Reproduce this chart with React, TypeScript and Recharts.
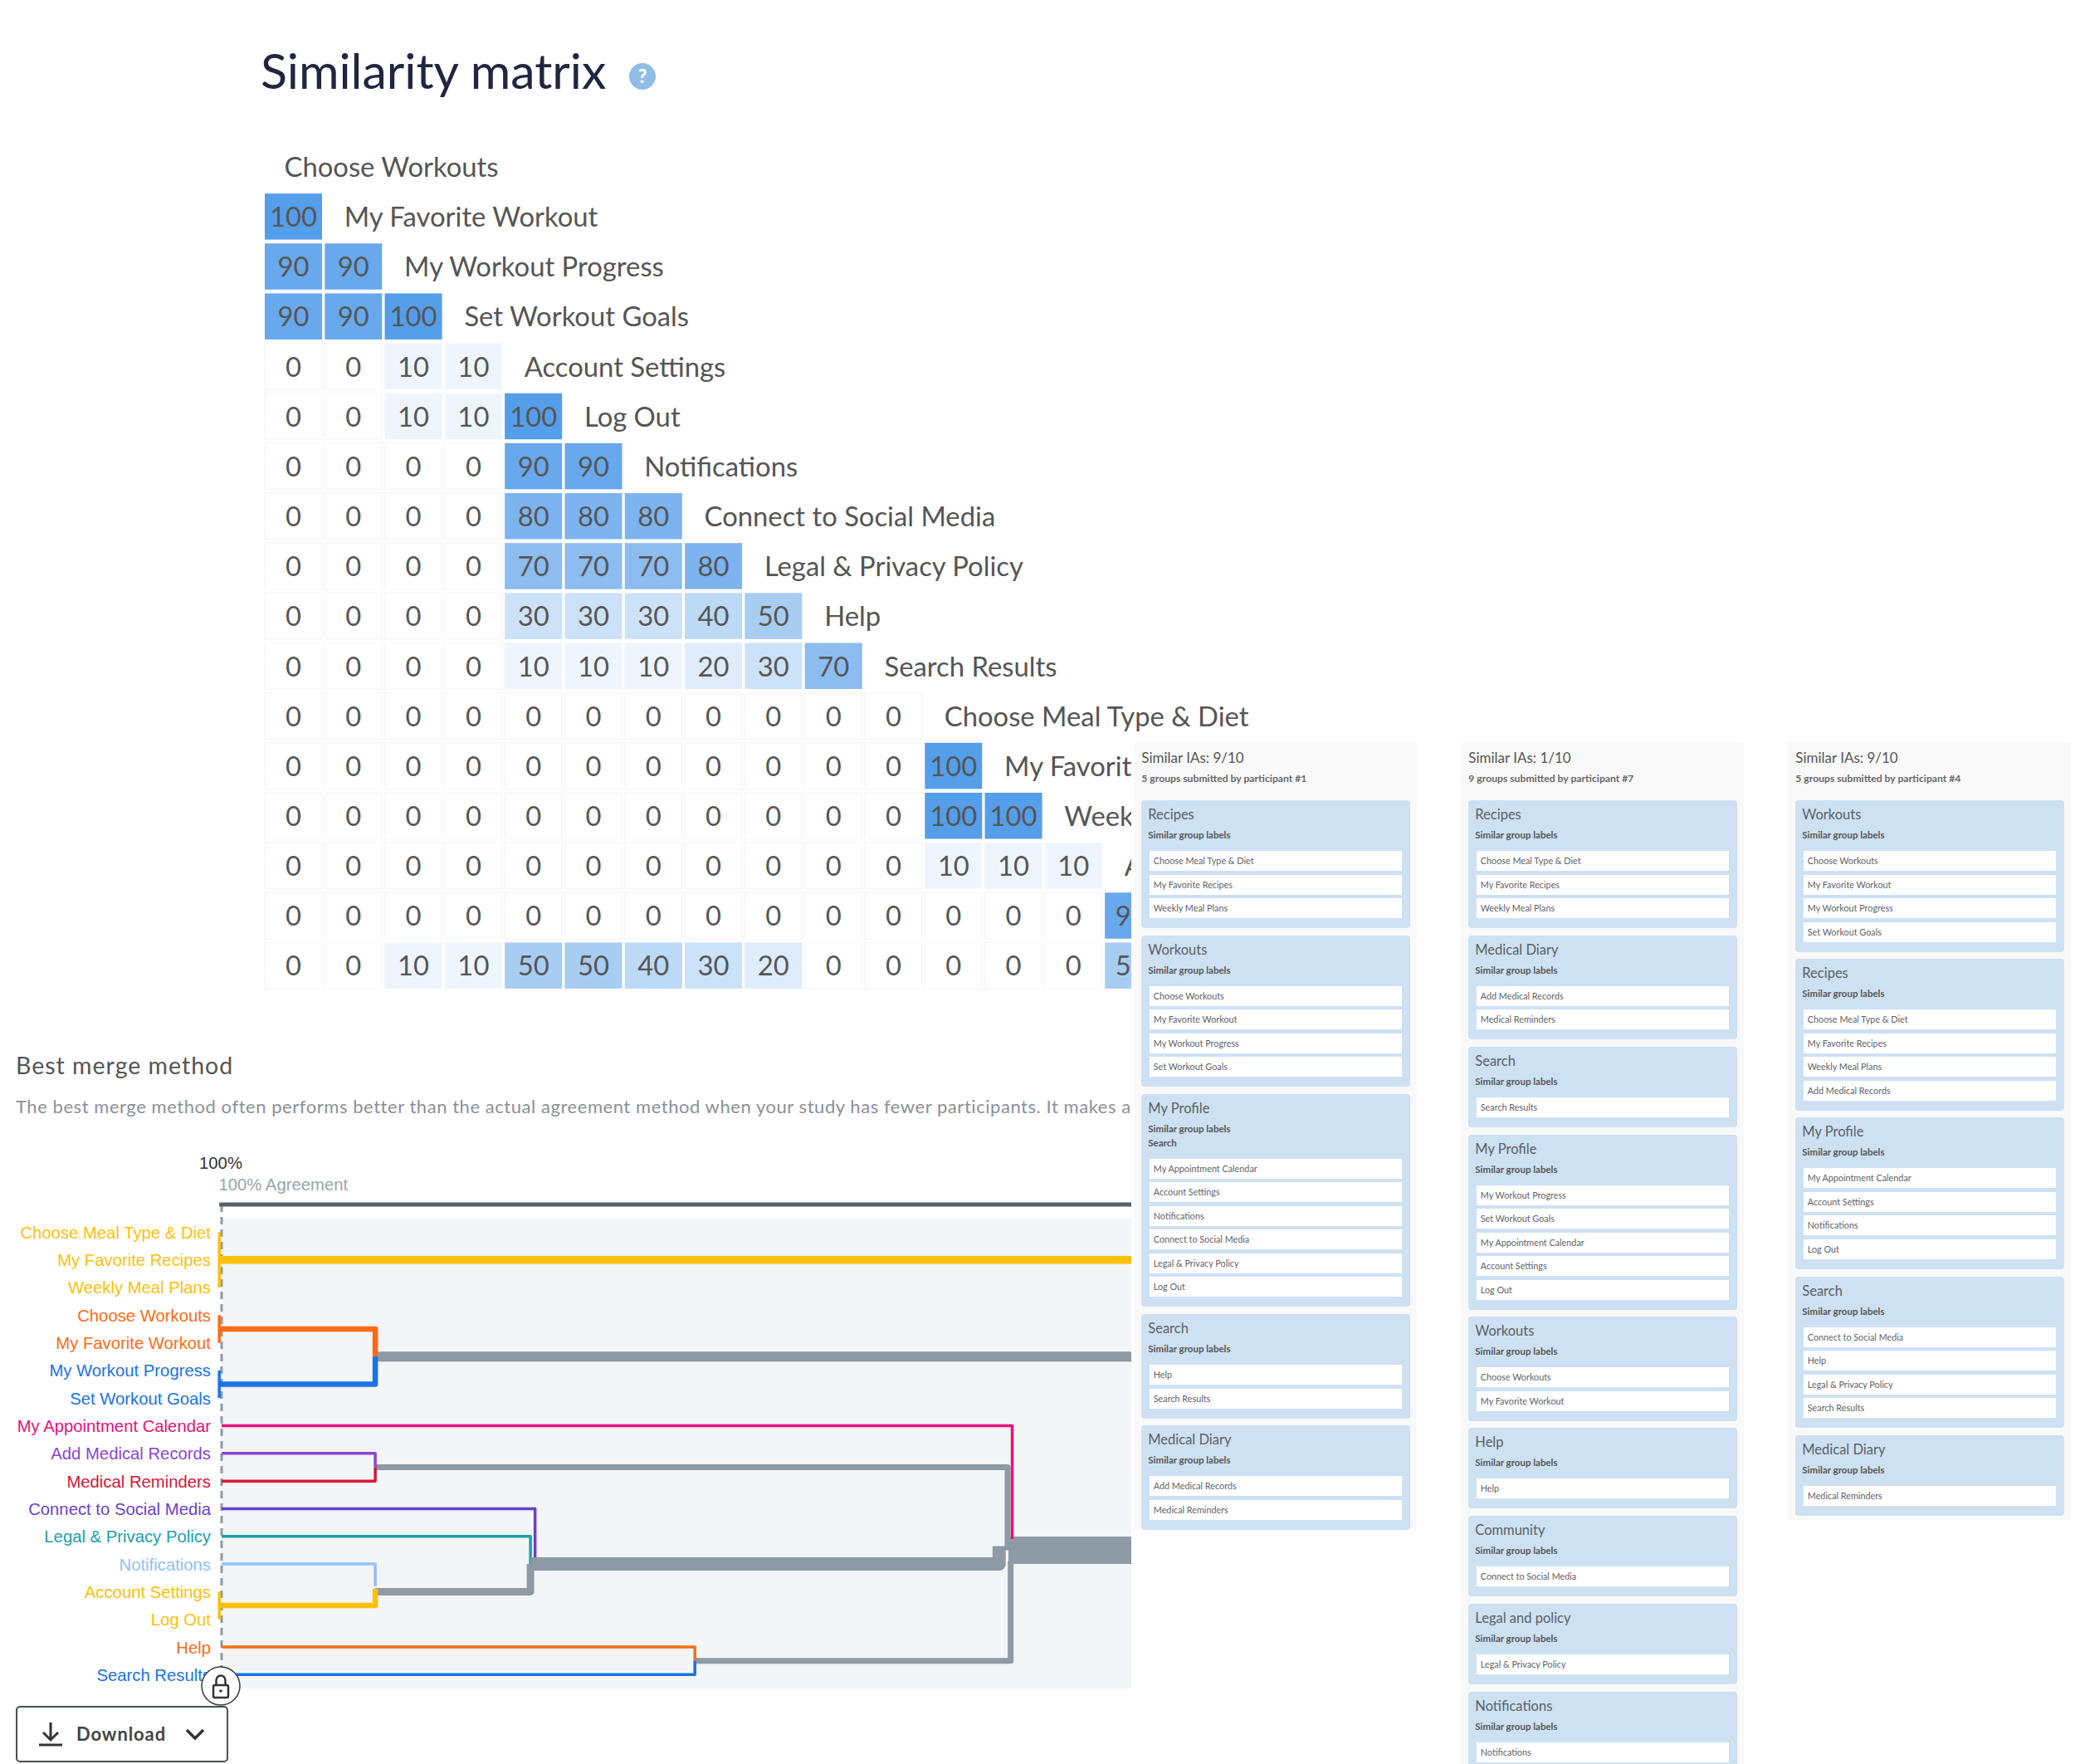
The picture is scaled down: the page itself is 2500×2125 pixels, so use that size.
import React from "react";
import {
  LineChart,
  Line,
  ScatterChart,
  Scatter,
  XAxis,
  YAxis,
  ReferenceArea,
  ReferenceLine,
} from "recharts";

// similarity matrix, one list per row, lower triangle
// the last labels are cut by the pasted panels in the picture, so only the visible part is kept
const matrixLabels = [
  "Choose Workouts",
  "My Favorite Workout",
  "My Workout Progress",
  "Set Workout Goals",
  "Account Settings",
  "Log Out",
  "Notifications",
  "Connect to Social Media",
  "Legal & Privacy Policy",
  "Help",
  "Search Results",
  "Choose Meal Type & Diet",
  "My Favorit",
  "Week",
  "A",
];
const matrixRows = [
  [],
  [100],
  [90, 90],
  [90, 90, 100],
  [0, 0, 10, 10],
  [0, 0, 10, 10, 100],
  [0, 0, 0, 0, 90, 90],
  [0, 0, 0, 0, 80, 80, 80],
  [0, 0, 0, 0, 70, 70, 70, 80],
  [0, 0, 0, 0, 30, 30, 30, 40, 50],
  [0, 0, 0, 0, 10, 10, 10, 20, 30, 70],
  [0, 0, 0, 0, 0, 0, 0, 0, 0, 0, 0],
  [0, 0, 0, 0, 0, 0, 0, 0, 0, 0, 0, 100],
  [0, 0, 0, 0, 0, 0, 0, 0, 0, 0, 0, 100, 100],
  [0, 0, 0, 0, 0, 0, 0, 0, 0, 0, 0, 10, 10, 10],
  [0, 0, 0, 0, 0, 0, 0, 0, 0, 0, 0, 0, 0, 0, 90],
  [0, 0, 10, 10, 50, 50, 40, 30, 20, 0, 0, 0, 0, 0, 50],
];
const matrixCells = matrixRows.flatMap((vals, row) =>
  vals.map((value, col) => ({ col, row, value }))
);
const matrixHeads = matrixLabels.map((label, row) => ({ col: row, row, label }));

// best merge dendrogram, x is agreement %, y is position in the item list
const mergeLabels = [
  "Choose Meal Type & Diet",
  "My Favorite Recipes",
  "Weekly Meal Plans",
  "Choose Workouts",
  "My Favorite Workout",
  "My Workout Progress",
  "Set Workout Goals",
  "My Appointment Calendar",
  "Add Medical Records",
  "Medical Reminders",
  "Connect to Social Media",
  "Legal & Privacy Policy",
  "Notifications",
  "Account Settings",
  "Log Out",
  "Help",
  "Search Results",
];
const mergeItems = [0, 1, 2, 3, 4, 5, 6, 7, 8, 9, 10, 11, 12, 13, 14, 15, 16];

const recipesStem = [{ x: 100.15, y: 0 }, { x: 100.15, y: 2 }];
const recipesLink = [{ x: 100.15, y: 1 }, { x: 40.8, y: 1 }];
const workoutsA = [{ x: 100.15, y: 3 }, { x: 100.15, y: 4 }];
const workoutsALink = [{ x: 100.15, y: 3.5 }, { x: 90, y: 3.5 }, { x: 90, y: 4.5 }];
const workoutsB = [{ x: 100.15, y: 5 }, { x: 100.15, y: 6 }];
const workoutsBLink = [{ x: 100.15, y: 5.5 }, { x: 90, y: 5.5 }, { x: 90, y: 4.5 }];
const workoutsTrunk = [{ x: 90, y: 4.5 }, { x: 40.8, y: 4.5 }];
const appointmentLink = [{ x: 100, y: 7 }, { x: 48.55, y: 7 }, { x: 48.55, y: 11.1 }];
const addMedicalLink = [{ x: 100, y: 8 }, { x: 90, y: 8 }, { x: 90, y: 8.5 }];
const remindersLink = [{ x: 100, y: 9 }, { x: 90, y: 9 }, { x: 90, y: 8.5 }];
const medicalTrunk = [{ x: 90, y: 8.5 }, { x: 48.85, y: 8.5 }, { x: 48.85, y: 11.5 }];
const socialLink = [{ x: 100, y: 10 }, { x: 79.6, y: 10 }, { x: 79.6, y: 11.8 }];
const legalLink = [{ x: 100, y: 11 }, { x: 79.9, y: 11 }, { x: 79.9, y: 12 }];
const notificationsLink = [{ x: 100, y: 12 }, { x: 90, y: 12 }, { x: 90, y: 12.8 }];
const accountStem = [{ x: 100.15, y: 13 }, { x: 100.15, y: 14 }];
const accountLink = [{ x: 100.15, y: 13.5 }, { x: 90, y: 13.5 }, { x: 90, y: 12.9 }];
const profileTrunk = [{ x: 90, y: 13 }, { x: 79.9, y: 13 }, { x: 79.9, y: 12 }];
const profileMerge = [{ x: 79.9, y: 12 }, { x: 49.4, y: 12 }, { x: 49.4, y: 11.35 }];
const helpLink = [{ x: 100, y: 15 }, { x: 69.2, y: 15 }, { x: 69.2, y: 15.5 }];
const searchLink = [{ x: 100, y: 16 }, { x: 69.2, y: 16 }, { x: 69.2, y: 15.5 }];
const searchTrunk = [{ x: 69.2, y: 15.5 }, { x: 48.65, y: 15.5 }, { x: 48.65, y: 11.9 }];
const rootTrunk = [{ x: 48.8, y: 11.5 }, { x: 40.8, y: 11.5 }];

const GREY = "#8e9aa5";
const YELLOW = "#fdc00b";
const ORANGE = "#ff6a13";
const BLUE = "#1a73e8";

const links = [
  { id: "recipesStem", data: recipesStem, color: YELLOW, width: 3.5 },
  { id: "recipesLink", data: recipesLink, color: YELLOW, width: 9.5 },
  { id: "workoutsTrunk", data: workoutsTrunk, color: GREY, width: 12 },
  { id: "workoutsA", data: workoutsA, color: ORANGE, width: 3.5 },
  { id: "workoutsALink", data: workoutsALink, color: ORANGE, width: 6.5 },
  { id: "workoutsB", data: workoutsB, color: BLUE, width: 3.5 },
  { id: "workoutsBLink", data: workoutsBLink, color: BLUE, width: 6.5 },
  { id: "medicalTrunk", data: medicalTrunk, color: GREY, width: 7 },
  { id: "addMedicalLink", data: addMedicalLink, color: "#8b45d6", width: 3.5 },
  { id: "remindersLink", data: remindersLink, color: "#d8143a", width: 3.5 },
  { id: "legalLink", data: legalLink, color: "#17a2a8", width: 3.5 },
  { id: "socialLink", data: socialLink, color: "#6a3fd0", width: 3.5 },
  { id: "searchTrunk", data: searchTrunk, color: GREY, width: 7 },
  { id: "profileTrunk", data: profileTrunk, color: GREY, width: 9 },
  { id: "notificationsLink", data: notificationsLink, color: "#8fc1ff", width: 3.5 },
  { id: "accountStem", data: accountStem, color: YELLOW, width: 3.5 },
  { id: "accountLink", data: accountLink, color: YELLOW, width: 6.5 },
  { id: "profileMerge", data: profileMerge, color: GREY, width: 16 },
  { id: "rootTrunk", data: rootTrunk, color: GREY, width: 33 },
  { id: "appointmentLink", data: appointmentLink, color: "#ec0f7a", width: 3.5 },
  { id: "helpLink", data: helpLink, color: ORANGE, width: 3.5 },
  { id: "searchLink", data: searchLink, color: BLUE, width: 3.5 },
];

const mergeColors = [
  YELLOW, YELLOW, YELLOW, ORANGE, ORANGE, BLUE, BLUE, "#ec0f7a", "#8b45d6", "#d8143a",
  "#6a3fd0", "#17a2a8", "#8fc1ff", YELLOW, YELLOW, ORANGE, BLUE,
];

// sample IAs on the right
const participantOne = [
  { title: "Recipes", extra: [], items: ["Choose Meal Type & Diet", "My Favorite Recipes", "Weekly Meal Plans"] },
  { title: "Workouts", extra: [], items: ["Choose Workouts", "My Favorite Workout", "My Workout Progress", "Set Workout Goals"] },
  {
    title: "My Profile",
    extra: ["Search"],
    items: ["My Appointment Calendar", "Account Settings", "Notifications", "Connect to Social Media", "Legal & Privacy Policy", "Log Out"],
  },
  { title: "Search", extra: [], items: ["Help", "Search Results"] },
  { title: "Medical Diary", extra: [], items: ["Add Medical Records", "Medical Reminders"] },
];
const participantSeven = [
  { title: "Recipes", extra: [], items: ["Choose Meal Type & Diet", "My Favorite Recipes", "Weekly Meal Plans"] },
  { title: "Medical Diary", extra: [], items: ["Add Medical Records", "Medical Reminders"] },
  { title: "Search", extra: [], items: ["Search Results"] },
  { title: "My Profile", extra: [], items: ["My Workout Progress", "Set Workout Goals", "My Appointment Calendar", "Account Settings", "Log Out"] },
  { title: "Workouts", extra: [], items: ["Choose Workouts", "My Favorite Workout"] },
  { title: "Help", extra: [], items: ["Help"] },
  { title: "Community", extra: [], items: ["Connect to Social Media"] },
  { title: "Legal and policy", extra: [], items: ["Legal & Privacy Policy"] },
  { title: "Notifications", extra: [], items: ["Notifications"] },
];
const participantFour = [
  { title: "Workouts", extra: [], items: ["Choose Workouts", "My Favorite Workout", "My Workout Progress", "Set Workout Goals"] },
  { title: "Recipes", extra: [], items: ["Choose Meal Type & Diet", "My Favorite Recipes", "Weekly Meal Plans", "Add Medical Records"] },
  { title: "My Profile", extra: [], items: ["My Appointment Calendar", "Account Settings", "Notifications", "Log Out"] },
  { title: "Search", extra: [], items: ["Connect to Social Media", "Help", "Legal & Privacy Policy", "Search Results"] },
  { title: "Medical Diary", extra: [], items: ["Medical Reminders"] },
];

const SANS = "Lato, sans-serif";
const CHART_FONT = "'Liberation Sans', sans-serif";
const LAST_VISIBLE_COL = 14;

const shade: Record<number, string> = {
  0: "#ffffff",
  10: "#eef5fd",
  20: "#deecfb",
  30: "#cce2f8",
  40: "#bcd9f6",
  50: "#a8cdf3",
  70: "#8cbcf0",
  80: "#7db3ee",
  90: "#68a8ec",
  100: "#559ee9",
};

const MatrixCell = (props: any) => {
  const { cx, cy, payload } = props;
  // last column sits under the panel edge, only its first digit shows
  const cut = payload.col === LAST_VISIBLE_COL && payload.value > 0;
  return (
    <g>
      <rect
        x={cx - 34.5}
        y={cy - 27.5}
        width={69}
        height={55.5}
        fill={shade[payload.value]}
        stroke={payload.value === 0 ? "#f7f7f7" : "none"}
        strokeWidth={1.5}
      />
      <text
        x={cut ? cx - 3 : cx}
        y={cy + 12.5}
        textAnchor={cut ? "end" : "middle"}
        fontFamily={SANS}
        fontSize={32.8}
        fill="#565656"
      >
        {cut ? String(payload.value)[0] : payload.value}
      </text>
    </g>
  );
};

const MatrixHead = (props: any) => {
  const { cx, cy, payload } = props;
  return (
    <text x={cx - 11} y={cy + 12.5} fontFamily={SANS} fontSize={32.8} fill="#555">
      {payload.label}
    </text>
  );
};

const MergeTick = (props: any) => {
  const { y, payload } = props;
  return (
    <text x={254} y={y + 7.5} textAnchor="end" fontFamily={CHART_FONT} fontSize={20.3} fill={mergeColors[payload.value]}>
      {mergeLabels[payload.value]}
    </text>
  );
};

const AgreementTick = (props: any) => {
  const { x, payload } = props;
  return (
    <g fontFamily={CHART_FONT} fontSize={20.3}>
      <text x={x - 1} y={28} textAnchor="middle" fill="#333">
        {payload.value}%
      </text>
      <text x={x - 3.5} y={54} fill="#9aa4ad">
        {payload.value}% Agreement
      </text>
    </g>
  );
};

function GroupCard({ group }: { group: (typeof participantOne)[number] }) {
  return (
    <div style={{ background: "#cde1f3", borderRadius: 4, marginBottom: 8.7, paddingBottom: 12 }}>
      <div style={{ height: 36, lineHeight: "35px", paddingLeft: 8, fontSize: 16.5, color: "#5a5f66" }}>{group.title}</div>
      <div style={{ height: 12, lineHeight: "12px", paddingLeft: 8, fontSize: 11.5, fontWeight: 700, color: "#555" }}>
        Similar group labels
      </div>
      {group.extra.map((e) => (
        <div key={e} style={{ height: 17, lineHeight: "21px", paddingLeft: 8, fontSize: 11.5, fontWeight: 700, color: "#555" }}>
          {e}
        </div>
      ))}
      <div style={{ marginTop: 13 }}>
        {group.items.map((item, i) => (
          <div
            key={item}
            style={{
              height: 24,
              lineHeight: "24px",
              margin: `${i === 0 ? 0 : 4.5}px 9.5px 0`,
              paddingLeft: 5,
              background: "#fff",
              fontSize: 10.8,
              color: "#5f6368",
            }}
          >
            {item}
          </div>
        ))}
      </div>
    </div>
  );
}

function SamplePanel({ left, height, score, sub, groups }: any) {
  return (
    <div
      style={{
        position: "absolute",
        left,
        top: 894,
        width: 340,
        height,
        background: "#f9f9f9",
        overflow: "hidden",
        fontFamily: SANS,
      }}
    >
      <div style={{ height: 70, paddingLeft: 8.3, position: "relative" }}>
        <div style={{ position: "absolute", top: 8, fontSize: 17, color: "#555" }}>{score}</div>
        <div style={{ position: "absolute", top: 36, fontSize: 12.2, fontWeight: 700, color: "#666" }}>{sub}</div>
      </div>
      <div style={{ padding: "0 8.3px" }}>
        {groups.map((g: any) => (
          <GroupCard key={g.title} group={g} />
        ))}
      </div>
    </div>
  );
}

export default function App() {
  return (
    <div
      style={{
        position: "absolute",
        left: 0,
        top: 0,
        width: 2500,
        height: 2125,
        background: "#fff",
        overflow: "hidden",
        fontFamily: SANS,
      }}
    >
      <div style={{ position: "absolute", left: 314, top: 48, fontSize: 59, lineHeight: "74px", color: "#20263f", fontWeight: 400 }}>
        Similarity matrix
      </div>
      <svg style={{ position: "absolute", left: 758, top: 76 }} width={32} height={32}>
        <circle cx={16} cy={16} r={16} fill="#8fbde6" />
        <text x={16} y={24} textAnchor="middle" fontFamily={SANS} fontWeight={900} fontSize={23} fill="#fff">
          ?
        </text>
      </svg>

      <div style={{ position: "absolute", left: 0, top: 0 }}>
        <ScatterChart width={1700} height={1200} margin={{ top: 170.4, right: 9, bottom: 7, left: 317.35 }}>
          <XAxis type="number" dataKey="col" domain={[-0.5, 18.5]} hide />
          <YAxis type="number" dataKey="row" domain={[-0.5, 16.5]} reversed hide />
          <Scatter data={matrixCells} shape={MatrixCell} isAnimationActive={false} />
          <Scatter data={matrixHeads} shape={MatrixHead} isAnimationActive={false} />
        </ScatterChart>
      </div>

      <div style={{ position: "absolute", left: 19, top: 1264, fontSize: 28.5, lineHeight: "38px", color: "#555", letterSpacing: 1 }}>
        Best merge method
      </div>
      <div
        style={{
          position: "absolute",
          left: 19,
          top: 1319,
          width: 1344,
          overflow: "hidden",
          whiteSpace: "nowrap",
          fontSize: 22,
          lineHeight: "28px",
          color: "#8b9097",
          letterSpacing: 0.55,
        }}
      >
        The best merge method often performs better than the actual agreement method when your study has fewer participants. It makes a
      </div>

      <div style={{ position: "absolute", left: 0, top: 1380 }}>
        <LineChart width={1363} height={660} margin={{ top: 41, right: 0, bottom: 6, left: 0 }}>
          <XAxis
            type="number"
            dataKey="x"
            orientation="top"
            domain={[40.8, 100.15]}
            reversed
            ticks={[100]}
            height={30}
            tick={AgreementTick}
            tickLine={false}
            axisLine={{ stroke: "#56606d", strokeWidth: 5 }}
          />
          <YAxis
            type="number"
            dataKey="y"
            domain={[-1, 16.5]}
            reversed
            ticks={mergeItems}
            interval={0}
            width={264.2}
            tick={MergeTick}
            tickLine={false}
            axisLine={false}
          />
          <ReferenceArea x1={100} x2={40.8} y1={-0.5} y2={16.5} fill="#f3f5f7" fillOpacity={1} stroke="none" />
          <ReferenceLine x={100} stroke={GREY} strokeWidth={3} strokeDasharray="9 6" />
          {links.map((link) => (
            <Line
              key={link.id}
              data={link.data}
              dataKey="y"
              stroke={link.color}
              strokeWidth={link.width}
              strokeLinejoin="round"
              dot={false}
              activeDot={false}
              legendType="none"
              isAnimationActive={false}
            />
          ))}
        </LineChart>
      </div>

      {/* the pasted screenshots cover whatever runs past this edge */}
      <div style={{ position: "absolute", left: 1363, top: 885, width: 1137, height: 1240, background: "#fff" }} />

      <SamplePanel left={1367} height={949} score="Similar IAs: 9/10" sub="5 groups submitted by participant #1" groups={participantOne} />
      <SamplePanel left={1761} height={1231} score="Similar IAs: 1/10" sub="9 groups submitted by participant #7" groups={participantSeven} />
      <SamplePanel left={2155} height={937} score="Similar IAs: 9/10" sub="5 groups submitted by participant #4" groups={participantFour} />

      <svg style={{ position: "absolute", left: 241, top: 2006 }} width={50} height={50}>
        <circle cx={25} cy={25} r={23} fill="#fff" stroke="#3a3a3a" strokeWidth={1.5} />
        <rect x={16} y={24} width={18} height={15} rx={2} fill="none" stroke="#333" strokeWidth={2.5} />
        <path d="M19.5 24v-6a5.5 5.5 0 0 1 11 0v6" fill="none" stroke="#333" strokeWidth={2.5} />
        <circle cx={25} cy={31} r={1.8} fill="#333" />
      </svg>

      <div
        style={{
          position: "absolute",
          left: 19,
          top: 2055,
          width: 252,
          height: 64,
          border: "2px solid #4a4f55",
          borderRadius: 5,
          background: "#fff",
        }}
      >
        <svg style={{ position: "absolute", left: 25, top: 17 }} width={30} height={30}>
          <path d="M15 1v20M6 13l9 9 9-9M1 28h28" fill="none" stroke="#333" strokeWidth={3} />
        </svg>
        <div style={{ position: "absolute", left: 71, top: 17, fontSize: 22, lineHeight: "30px", fontWeight: 700, color: "#444", letterSpacing: 0.9 }}>
          Download
        </div>
        <svg style={{ position: "absolute", left: 202, top: 24 }} width={24} height={18}>
          <path d="M2 3l10 10 10-10" fill="none" stroke="#333" strokeWidth={3.5} />
        </svg>
      </div>
    </div>
  );
}
